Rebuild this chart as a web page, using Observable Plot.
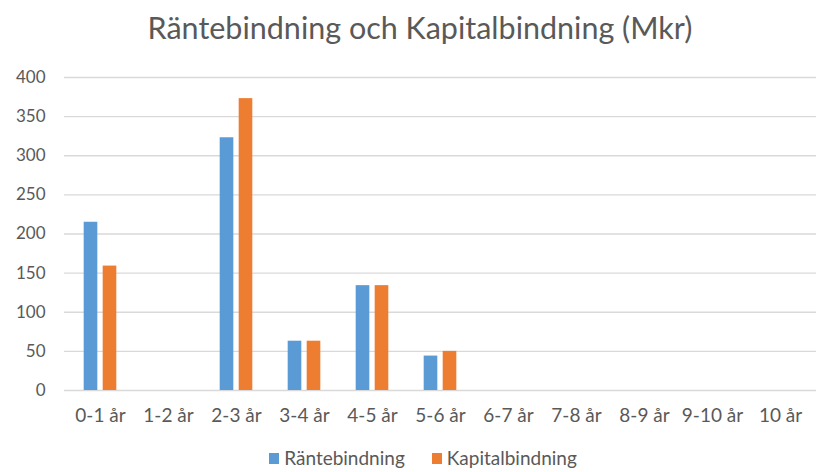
<!DOCTYPE html>
<html><head><meta charset="utf-8">
<script src="https://cdn.jsdelivr.net/npm/d3@7"></script>
<script src="https://cdn.jsdelivr.net/npm/@observablehq/plot@0.6"></script>
<style>
body{margin:0;background:#fff;font-family:Lato,"Open Sans",sans-serif;}
#wrap{width:816px;height:472px;overflow:hidden;position:relative;background:#fff}
#title{position:absolute;top:9px;left:12px;width:816px;text-align:center;font-size:30.5px;color:#595959;white-space:nowrap}
#chart{position:absolute;top:60px;left:0}
#legend{position:absolute;top:447px;left:15px;width:816px;display:flex;justify-content:center;gap:27px;font-size:19px;line-height:22px;color:#595959}
#legend span.item{display:flex;align-items:center;gap:5px}
#legend span.sw{display:inline-block;width:10px;height:11px}
</style></head>
<body><div id="wrap"><div id="title">Räntebindning och Kapitalbindning (Mkr)</div><div id="chart"></div><div id="legend"></div></div>
<script>
const categories = ["0-1 år","1-2 år","2-3 år","3-4 år","4-5 år","5-6 år","6-7 år","7-8 år","8-9 år","9-10 år","10 år"];
const rantebindning = [215,0,323,63,134,44,0,0,0,0,0];
const kapitalbindning = [159,0,373,63,134,50,0,0,0,0,0];
const series = ["Räntebindning","Kapitalbindning"];
const colors = ["#5b9bd5","#ed7d31"];
const yTicks = [0,50,100,150,200,250,300,350,400];

const dataR = categories.map((c,i)=>({cat:c, series:series[0], value:rantebindning[i]}));
const dataK = categories.map((c,i)=>({cat:c, series:series[1], value:kapitalbindning[i]}));

const W = 816, ML = 64, MR = 0;
const band = (W - ML - MR) / categories.length;
const barW = 14, gap = 5;
const outer = (band - (2*barW + gap)) / 2;

const chart = Plot.plot({
  width:W, height:370, marginTop:17, marginLeft:ML, marginRight:MR, marginBottom:40,
  style:{fontFamily:"Lato, 'Open Sans', sans-serif", fontSize:"17px", color:"#595959", background:"#fff"},
  x:{domain:categories, padding:0, label:null},
  y:{domain:[0,400], label:null},
  color:{domain:series, range:colors},
  marks:[
    Plot.ruleY(yTicks, {stroke:"#d9d9d9", strokeWidth:1.3}),
    Plot.axisY(yTicks, {tickSize:0, tickPadding:19, label:null, fill:"#595959", fontSize:17}),
    Plot.axisX({tickSize:0, tickPadding:18, label:null, fill:"#595959", fontSize:19}),
    Plot.barY(dataR, {x:"cat", y:"value", fill:"series", insetLeft:outer, insetRight:outer+barW+gap}),
    Plot.barY(dataK, {x:"cat", y:"value", fill:"series", insetLeft:outer+barW+gap, insetRight:outer})
  ]
});
document.getElementById("chart").appendChild(chart);

const leg = document.getElementById("legend");
series.forEach((s,i)=>{
  const it = document.createElement("span"); it.className="item";
  const sw = document.createElement("span"); sw.className="sw"; sw.style.background=colors[i];
  const tx = document.createElement("span"); tx.textContent=s;
  it.appendChild(sw); it.appendChild(tx); leg.appendChild(it);
});
</script></body></html>
